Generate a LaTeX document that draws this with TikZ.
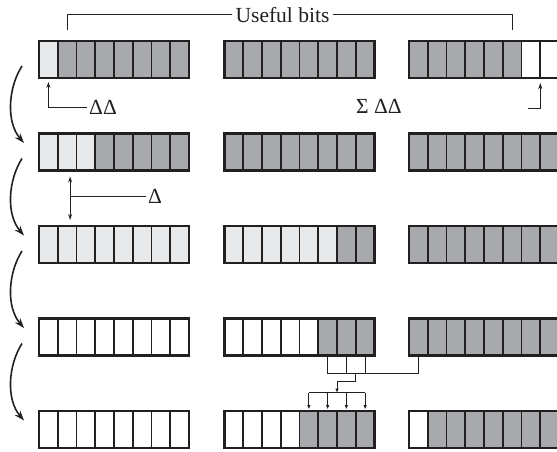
\documentclass[tikz,border=0pt]{standalone}
\usepackage{fontspec}
\setmainfont{Liberation Serif}
\usetikzlibrary{arrows.meta,calc}
\definecolor{fd}{RGB}{167,169,172}
\definecolor{fl}{RGB}{232,233,235}
\definecolor{ink}{RGB}{35,31,32}
\tikzset{
  cell/.style={rectangle, draw=ink, line width=1.9pt, minimum width=18.75pt, minimum height=37pt, inner sep=0pt, outer sep=0pt},
  regbox/.style={draw=ink, line width=2.6pt},
  thinline/.style={draw=ink, line width=1pt},
  lbl/.style={font=\fontsize{21.5}{24}\selectfont, inner sep=2pt, text=ink},
  flow/.style={draw=ink, line width=1.6pt, -{Stealth[length=10pt,width=7pt]}},
  tip/.style={-{Stealth[length=6pt,width=4pt]}},
  dtip/.style={{Stealth[length=6pt,width=4pt]}-{Stealth[length=6pt,width=4pt]}},
  smalltip/.style={-{Triangle[length=4pt,width=3pt]}},
}
\newcommand\register[4]{%
  \foreach \f [count=\i] in {#4} {
    \node[cell, fill=\f] (#1-\i) at ({#2+(\i-0.5)*18.75}, {#3+18.5}) {};
  }
  \draw[regbox] (#1-1.north west) rectangle (#1-8.south east);
}
\begin{document}
\begin{tikzpicture}[x=1pt, y=-1pt]
\useasboundingbox (0,0) rectangle (557,452);
% row 1
\register{r1a}{39}{41}{fl,fd,fd,fd,fd,fd,fd,fd}
\register{r1b}{224.5}{41}{fd,fd,fd,fd,fd,fd,fd,fd}
\register{r1c}{409}{41}{fd,fd,fd,fd,fd,fd,white,white}
% row 2
\register{r2a}{39}{133.5}{fl,fl,fl,fd,fd,fd,fd,fd}
\register{r2b}{224.5}{133.5}{fd,fd,fd,fd,fd,fd,fd,fd}
\register{r2c}{409}{133.5}{fd,fd,fd,fd,fd,fd,fd,fd}
% row 3
\register{r3a}{39}{226}{fl,fl,fl,fl,fl,fl,fl,fl}
\register{r3b}{224.5}{226}{fl,fl,fl,fl,fl,fl,fd,fd}
\register{r3c}{409}{226}{fd,fd,fd,fd,fd,fd,fd,fd}
% row 4
\register{r4a}{39}{318.5}{white,white,white,white,white,white,white,white}
\register{r4b}{224.5}{318.5}{white,white,white,white,white,fd,fd,fd}
\register{r4c}{409}{318.5}{fd,fd,fd,fd,fd,fd,fd,fd}
% row 5
\register{r5a}{39}{411}{white,white,white,white,white,white,white,white}
\register{r5b}{224.5}{411}{white,white,white,white,fd,fd,fd,fd}
\register{r5c}{409}{411}{white,fd,fd,fd,fd,fd,fd,fd}

% Useful bits bracket
\node[lbl, inner sep=3pt] (ub) at (282.5,15) {Useful bits};
\draw[thinline] (ub.west) -| ([yshift=11pt]r1a-2.north);
\draw[thinline] (ub.east) -| ([yshift=11pt]r1c-6.north);

% Delta Delta
\node[lbl, anchor=west] (dd) at (87,107) {ΔΔ};
\draw[thinline, tip] (dd.west) -| ([yshift=-4pt]r1a-1.south);

% Sigma Delta Delta
\node[lbl] (sdd) at (379,106) {Σ ΔΔ};
\coordinate (rfree) at (528,108);
\draw[thinline, tip] (rfree) -| ([yshift=-5pt]r1c-7.south east);

% Delta
\coordinate (dtop) at ([shift={(3pt,-6pt)}]r2a-2.south);
\coordinate (dbot) at ([shift={(3pt,6pt)}]r3a-2.north);
\draw[thinline, dtip] (dtop) -- (dbot);
\node[lbl, anchor=west] (d1) at (146,196) {Δ};
\draw[thinline] (d1.west) -- (d1.west -| dtop);

% curved flow arrows
\foreach \k in {0,1,2,3} {
  \coordinate (cs\k) at (22,{66+92.5*\k});
  \coordinate (ce\k) at (24,{143+92.5*\k});
  \draw[flow] (cs\k) .. controls (8,{88+92.5*\k}) and (6,{122+92.5*\k}) .. (ce\k);
}

% combiner
\coordinate (busy) at (0,373);
\draw[thinline] (r4b-6.south) -- (r4b-6.south |- busy) -- (r4c-1.south |- busy) -- (r4c-1.south);
\draw[thinline] (r4b-7.south) -- (r4b-7.south |- busy);
\draw[thinline] (r4b-8.south) -- (r4b-8.south |- busy);
\coordinate (jn) at (r4b-7.south east |- busy);
\coordinate (bus2) at (0,392.5);
\coordinate (mid) at ($(r5b-5.north)!0.5!(r5b-8.north)$);
\draw[thinline, smalltip] (jn) -- ++(0,8) -| (mid |- bus2);
\draw[thinline] (r5b-5.north |- bus2) -- (r5b-8.north |- bus2);
\foreach \i in {5,...,8} {
  \draw[thinline, smalltip] (r5b-\i.north |- bus2) -- ([yshift=2pt]r5b-\i.north);
}
\end{tikzpicture}
\end{document}
